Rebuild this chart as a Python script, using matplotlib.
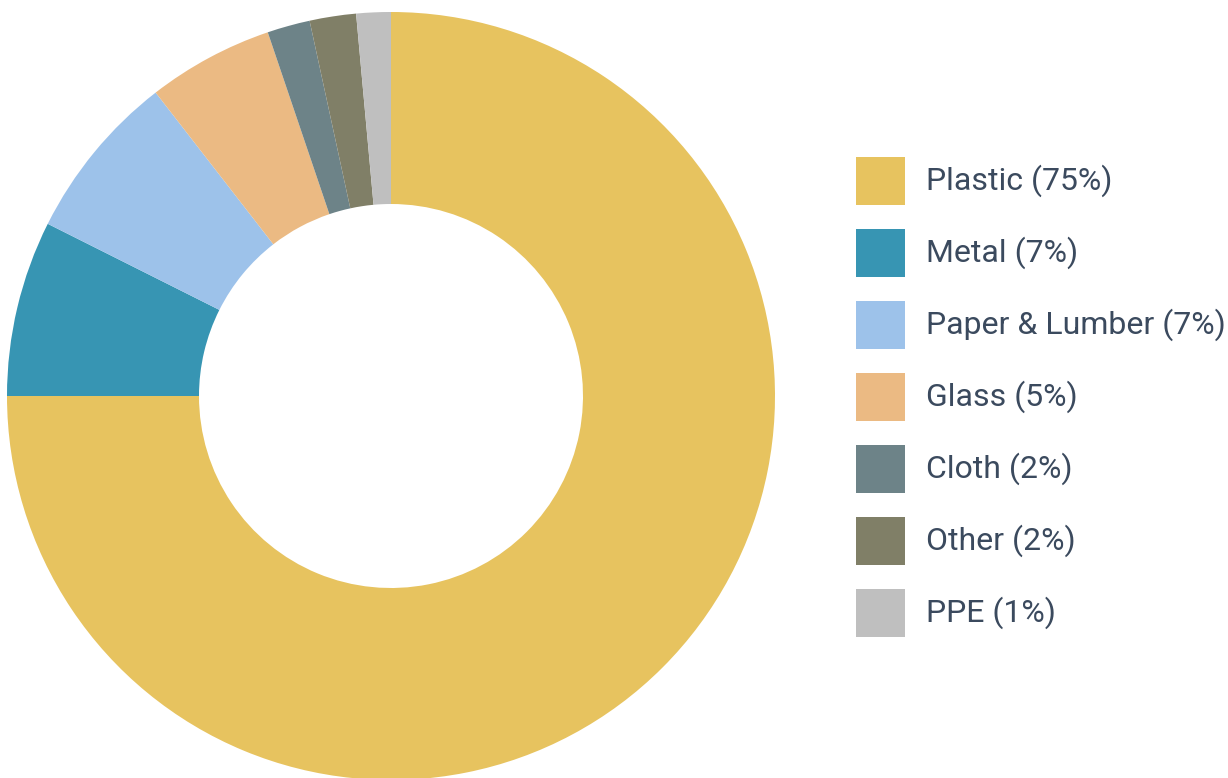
import matplotlib.pyplot as plt
import matplotlib.patches as patches

# waste composition by material
materials = ["Plastic", "Metal", "Paper & Lumber", "Glass", "Cloth", "Other", "PPE"]
shares = [75, 7.4, 7.1, 5.3, 1.8, 1.95, 1.45]
colors = ["#E7C35F", "#3795B3", "#9DC2EA", "#EBBA83", "#6D8388", "#807F67", "#BFBFBF"]

W, H = 1228, 778
fig = plt.figure(figsize=(W / 100, H / 100), dpi=100)

# donut: centre (391, 396) px, radius 384 px
cx, cy, r = 391, 396, 384
ax = fig.add_axes([(cx - r) / W, (H - cy - r) / H, 2 * r / W, 2 * r / H])
ax.pie(shares, colors=colors, startangle=90, counterclock=False,
       radius=1, wedgeprops=dict(width=0.5, linewidth=0))
ax.set_xlim(-1, 1)
ax.set_ylim(-1, 1)
ax.axis("off")

# legend drawn by hand: square swatches with labels
text_color = "#3B4A5E"
for i, (name, val, col) in enumerate(zip(materials, shares, colors)):
    top = 157 + i * 72
    rect = patches.Rectangle((856 / W, (H - top - 48) / H), 49 / W, 48 / H,
                             transform=fig.transFigure, facecolor=col,
                             edgecolor="none")
    fig.patches.append(rect)
    fig.text(926 / W, (H - top - 24) / H, f"{name} ({val:.0f}%)",
             fontsize=23, family="Roboto", color=text_color, va="center")

fig.savefig("out.png", dpi=100)
